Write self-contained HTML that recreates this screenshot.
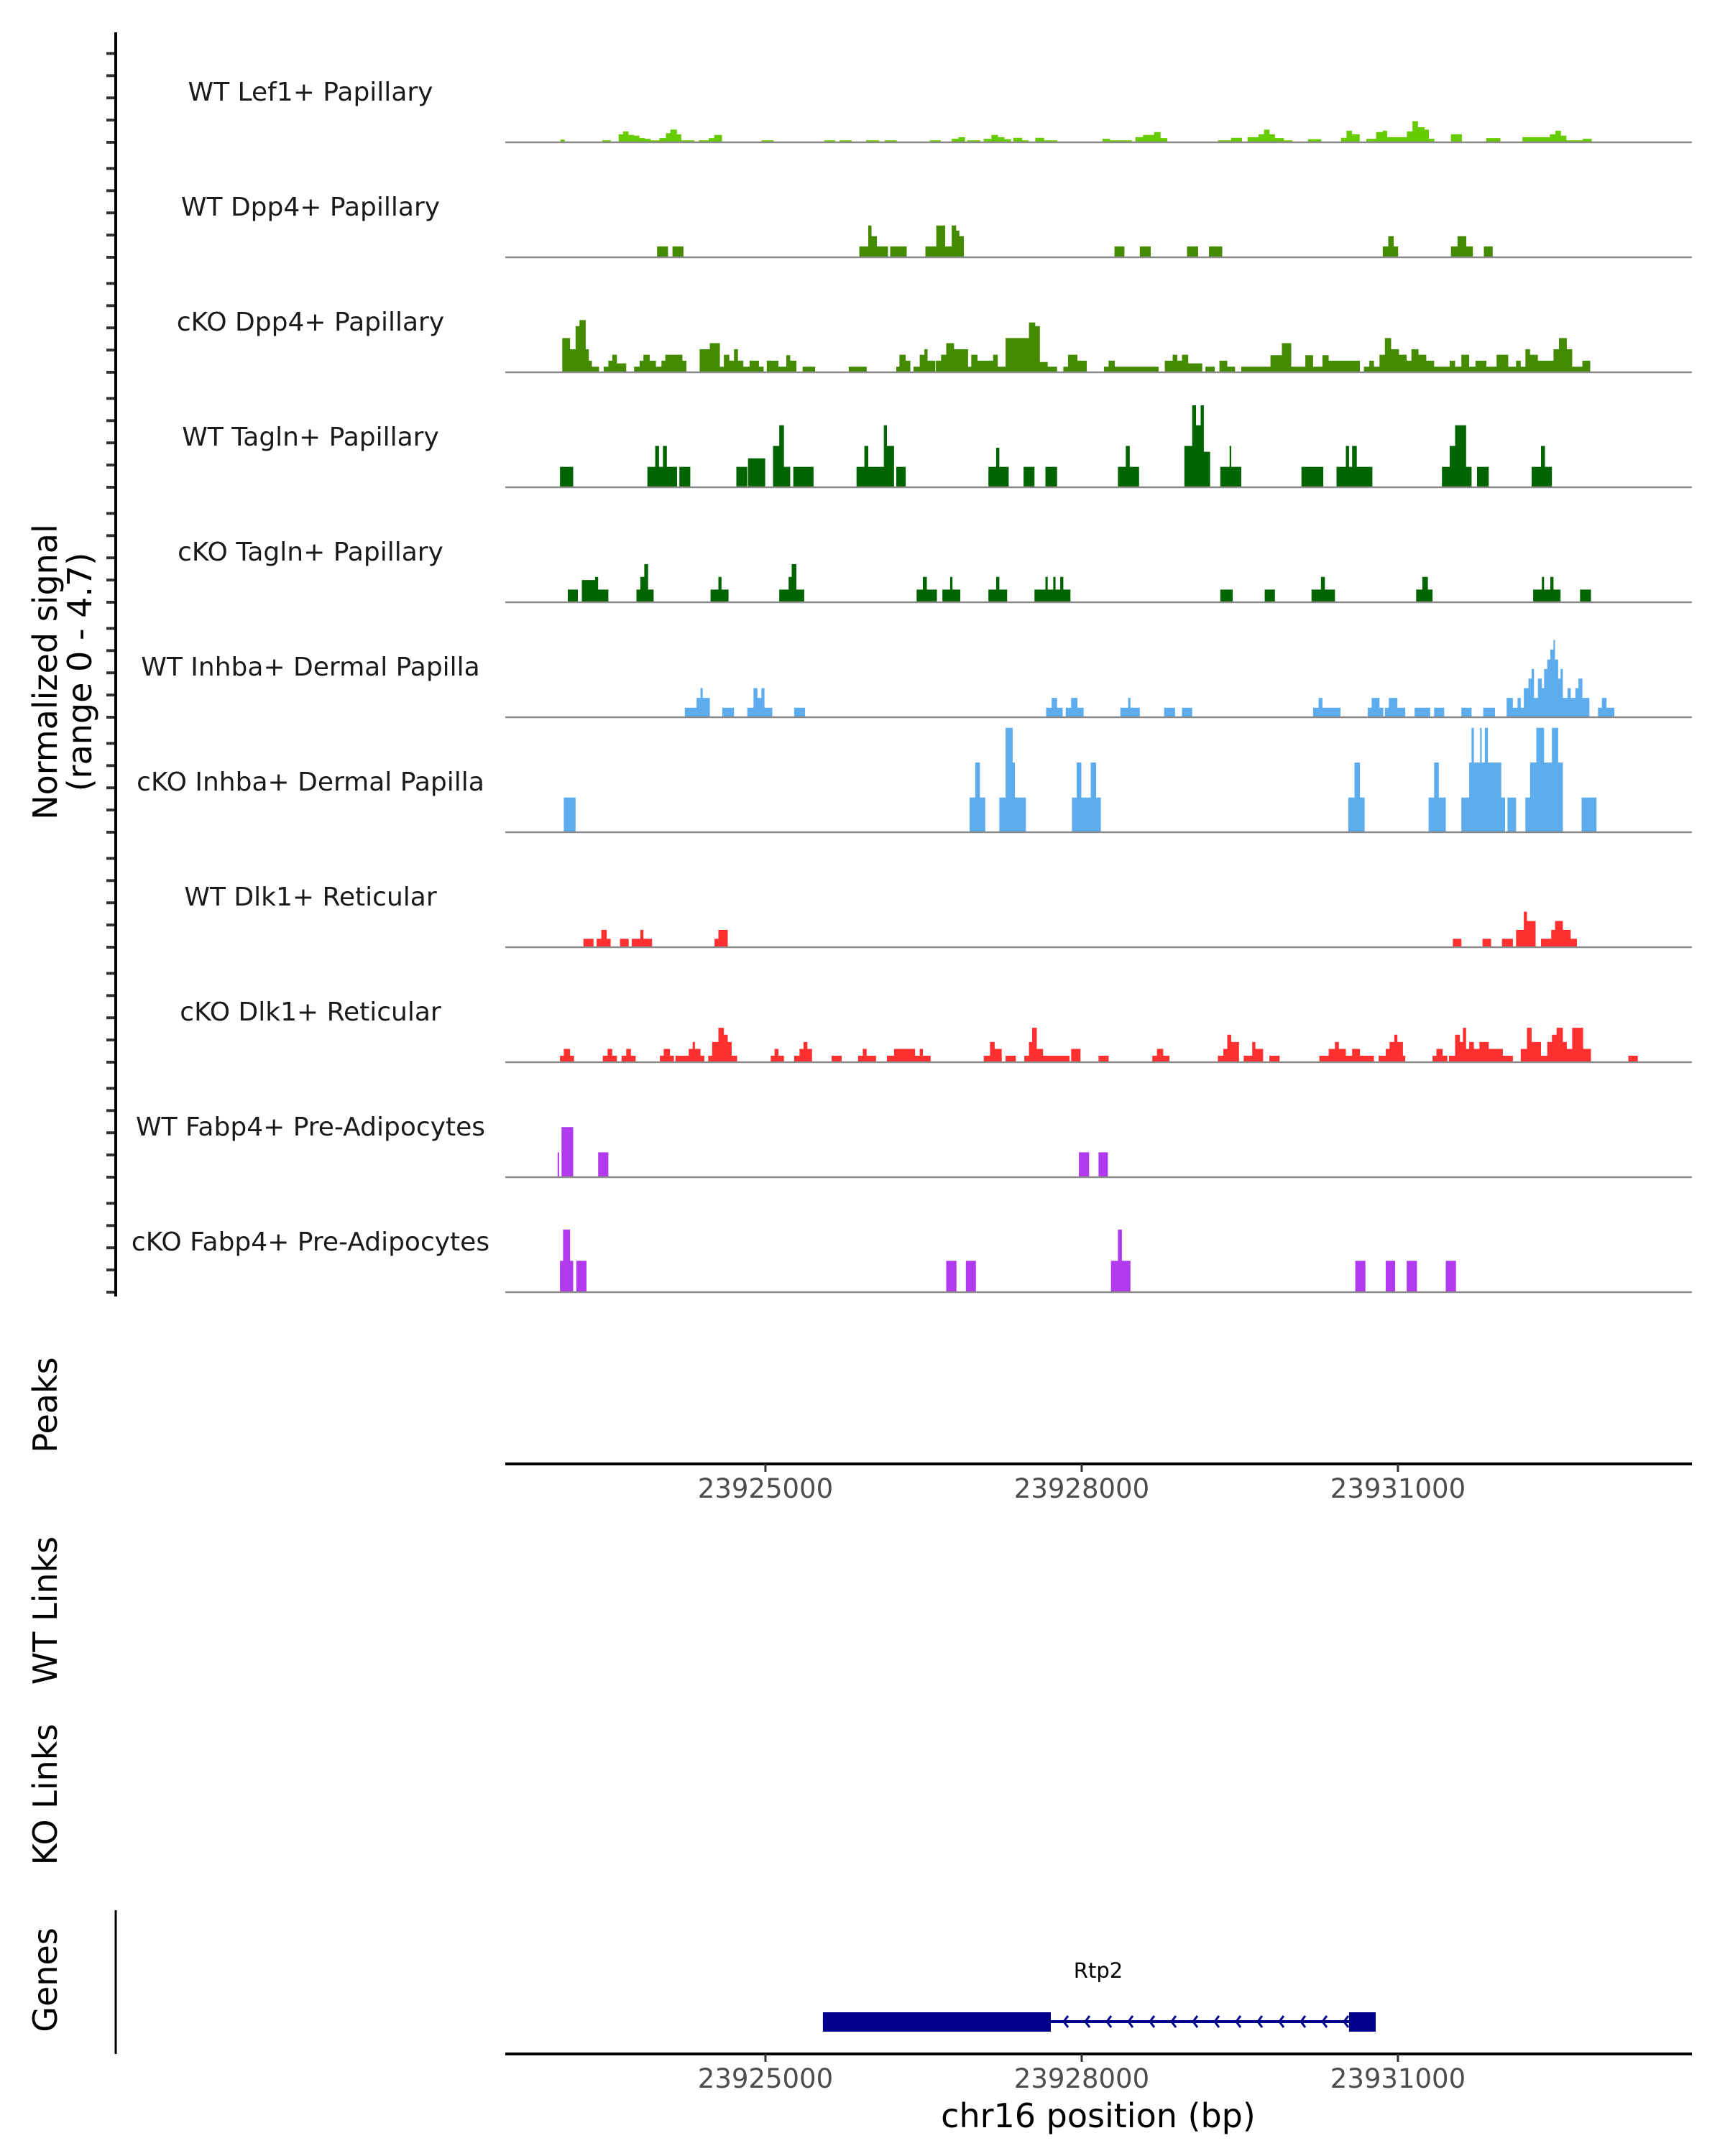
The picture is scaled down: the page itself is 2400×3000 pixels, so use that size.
<!DOCTYPE html>
<html><head><meta charset="utf-8"><title>Coverage plot chr16 Rtp2</title>
<style>html,body{margin:0;padding:0;background:#fff}svg{display:block;font-family:"DejaVu Sans","Liberation Sans",sans-serif}</style>
</head><body>
<svg id="chart" xmlns="http://www.w3.org/2000/svg" width="2400" height="3000" viewBox="0 0 2400 3000">
<rect x="0" y="0" width="2400" height="3000" fill="#fff"/>
<g id="tracks"></g>
<g id="axes"></g>
<g id="genes"></g>
</svg>
<script>
// ---- data (positions: bp offset from regionStart; values: normalized signal) ----
const regionStart = 23922532;
const regionEnd = 23933789;
const trackNames = ["WT Lef1+ Papillary","WT Dpp4+ Papillary","cKO Dpp4+ Papillary","WT Tagln+ Papillary","cKO Tagln+ Papillary","WT Inhba+ Dermal Papilla","cKO Inhba+ Dermal Papilla","WT Dlk1+ Reticular","cKO Dlk1+ Reticular","WT Fabp4+ Pre-Adipocytes","cKO Fabp4+ Pre-Adipocytes"];
const trackColors = ["#66cc00","#458b00","#458b00","#006400","#006400","#5cacee","#5cacee","#ff3030","#ff3030","#b23aee","#b23aee"];
const signalMax = 4.7;
const xTicks = [23925000, 23928000, 23931000];

const lef1WT = [[522,564,0.12],[919,1002,0.09],[1075,1117,0.36],[1117,1169,0.49],[1169,1221,0.33],[1221,1273,0.3],[1273,1325,0.19],[1325,1378,0.16],[1378,1461,0.09],[1461,1524,0.19],[1524,1566,0.41],[1566,1628,0.57],[1628,1670,0.36],[1670,1795,0.09],[1837,1930,0.09],[1930,1983,0.19],[1983,2056,0.33],[2431,2546,0.09],[3026,3130,0.09],[3172,3286,0.09],[3422,3547,0.09],[3599,3714,0.09],[4027,4131,0.09],[4235,4298,0.16],[4298,4361,0.23],[4381,4507,0.09],[4538,4611,0.16],[4611,4673,0.33],[4673,4736,0.23],[4736,4799,0.14],[4819,4903,0.2],[4903,4965,0.09],[5028,5112,0.2],[5112,5237,0.09],[5665,5737,0.16],[5737,5842,0.09],[5842,5946,0.09],[5977,6050,0.23],[6050,6155,0.33],[6155,6217,0.46],[6217,6280,0.19],[6760,6885,0.09],[6885,6989,0.2],[7041,7146,0.23],[7146,7198,0.36],[7198,7250,0.57],[7250,7302,0.36],[7302,7386,0.19],[7386,7469,0.09],[7615,7740,0.14],[7928,7980,0.2],[7980,8032,0.52],[8032,8105,0.36],[8168,8261,0.16],[8261,8324,0.46],[8324,8366,0.52],[8366,8428,0.23],[8428,8553,0.23],[8553,8606,0.49],[8606,8658,0.95],[8658,8720,0.68],[8720,8762,0.57],[8762,8814,0.16],[8971,9075,0.36],[9305,9440,0.19],[9649,9753,0.23],[9753,9909,0.23],[9909,9961,0.36],[9961,10014,0.52],[10014,10066,0.3],[10066,10222,0.09],[10222,10306,0.16]];
const dpp4WT = [[1440,1544,0.49],[1586,1690,0.49],[3359,3443,0.49],[3443,3474,1.43],[3474,3526,0.95],[3526,3630,0.49],[3651,3808,0.49],[3985,4089,0.49],[4089,4173,1.43],[4173,4235,0.49],[4235,4277,1.43],[4277,4308,1.2],[4308,4350,0.95],[5779,5873,0.49],[6019,6123,0.49],[6467,6572,0.49],[6676,6801,0.49],[8324,8376,0.49],[8376,8428,0.95],[8428,8470,0.49],[8971,9033,0.49],[9033,9117,0.95],[9117,9179,0.49],[9283,9367,0.49]];
// the following tracks were measured on a crop scale; cropScale/cropShift convert them to regionStart offsets
const cropScale = 0.9872;
const cropShift = 42;
const dpp4KO = [[505,580,1.54],[580,633,1.04],[633,670,2.08],[670,730,2.35],[730,760,1.04],[760,790,0.52],[790,858,0.25],[903,948,0.25],[948,985,0.52],[985,1030,0.79],[1030,1120,0.4],[1195,1248,0.25],[1248,1285,0.52],[1285,1345,0.79],[1345,1405,0.52],[1405,1458,0.25],[1458,1495,0.52],[1495,1660,0.79],[1660,1698,0.52],[1825,1870,1.04],[1870,1923,1.04],[1923,2020,1.31],[2020,2058,0.25],[2058,2110,0.79],[2110,2155,0.52],[2155,2193,1.04],[2193,2245,0.52],[2245,2305,0.25],[2305,2395,0.52],[2395,2440,0.25],[2470,2523,0.52],[2523,2583,0.52],[2583,2658,0.25],[2658,2695,0.77],[2695,2755,0.52],[2815,2935,0.25],[3258,3340,0.25],[3340,3430,0.25],[3715,3745,0.25],[3745,3805,0.79],[3805,3850,0.52],[3880,3940,0.25],[3940,3985,0.79],[3985,4015,1.04],[4015,4090,0.52],[4095,4145,0.52],[4145,4195,0.79],[4195,4270,1.31],[4270,4315,1.04],[4315,4405,1.04],[4405,4435,0.25],[4435,4495,0.79],[4495,4645,0.52],[4645,4690,0.79],[4690,4765,0.25],[4765,4870,1.54],[4870,4990,1.54],[4990,5050,2.24],[5050,5095,2.08],[5095,5170,0.46],[5170,5260,0.25],[5320,5365,0.25],[5365,5455,0.79],[5455,5545,0.52],[5710,5755,0.25],[5755,5815,0.52],[5815,5880,0.25],[5880,6235,0.25],[6295,6370,0.52],[6370,6415,0.79],[6415,6460,0.52],[6460,6520,0.79],[6520,6655,0.4],[6685,6775,0.25],[6820,6895,0.52],[6895,6970,0.25],[7030,7310,0.25],[7310,7420,0.77],[7420,7510,1.31],[7510,7645,0.25],[7645,7720,0.77],[7720,7810,0.25],[7810,7870,0.77],[7870,7983,0.52],[7983,8170,0.52],[8208,8260,0.25],[8260,8305,0.52],[8305,8358,0.25],[8358,8410,0.79],[8410,8470,1.54],[8470,8545,1.04],[8545,8620,0.79],[8620,8665,0.52],[8665,8733,1.04],[8733,8808,0.79],[8808,8883,0.52],[8883,9033,0.25],[9033,9085,0.52],[9085,9145,0.25],[9145,9220,0.79],[9220,9280,0.25],[9280,9385,0.52],[9385,9483,0.25],[9483,9595,0.79],[9595,9670,0.25],[9670,9715,0.52],[9715,9760,0.25],[9760,9805,1.04],[9805,9880,0.79],[9880,9970,0.52],[9970,10030,0.52],[10030,10083,1.04],[10083,10158,1.54],[10158,10210,1.04],[10210,10308,0.25],[10308,10383,0.52]];
const taglnWT = [[483,610,0.92],[1323,1398,0.92],[1398,1435,1.86],[1435,1473,0.92],[1473,1510,1.86],[1510,1608,0.92],[1630,1735,0.92],[2178,2283,0.92],[2290,2455,1.3],[2530,2590,1.86],[2590,2635,2.79],[2635,2695,0.92],[2725,2920,0.92],[3333,3408,0.92],[3408,3445,1.86],[3445,3595,0.92],[3595,3625,2.79],[3625,3693,1.86],[3715,3805,0.92],[4600,4675,0.92],[4675,4705,1.78],[4705,4795,0.92],[4938,5043,0.92],[5148,5260,0.92],[5845,5920,0.92],[5920,5958,1.86],[5958,6048,0.92],[6483,6558,1.86],[6558,6595,3.69],[6595,6640,2.79],[6640,6670,3.69],[6670,6730,1.6],[6828,6918,0.92],[6918,6933,1.86],[6933,7030,0.92],[7608,7818,0.92],[7945,8035,0.92],[8035,8065,1.86],[8065,8095,0.92],[8095,8140,1.86],[8140,8290,0.92],[8958,9033,0.92],[9033,9085,1.86],[9085,9190,2.79],[9190,9243,0.92],[9295,9408,0.92],[9820,9910,0.92],[9910,9948,1.86],[9948,10015,0.92]];
const taglnKO = [[558,655,0.57],[693,820,1.0],[820,850,1.14],[850,948,0.57],[1218,1255,0.57],[1255,1293,1.14],[1293,1330,1.72],[1330,1383,0.57],[1930,2005,0.57],[2005,2035,1.14],[2035,2103,0.57],[2590,2680,0.57],[2680,2710,1.14],[2710,2755,1.72],[2755,2830,0.57],[3910,3970,0.57],[3970,4008,1.14],[4008,4105,0.57],[4158,4233,0.57],[4233,4255,1.14],[4255,4330,0.57],[4600,4675,0.57],[4675,4705,1.14],[4705,4780,0.57],[5043,5148,0.57],[5148,5170,1.14],[5170,5223,0.57],[5223,5245,1.14],[5245,5290,0.57],[5290,5320,1.14],[5320,5388,0.57],[6828,6948,0.57],[7255,7353,0.57],[7705,7795,0.57],[7795,7833,1.14],[7833,7930,0.57],[8710,8770,0.57],[8770,8823,1.14],[8823,8868,0.57],[9835,9918,0.57],[9918,9940,1.14],[9940,10000,0.57],[10000,10030,1.14],[10030,10098,0.57],[10285,10390,0.57]];
const inhbaWT = [[1683,1795,0.43],[1795,1833,0.87],[1833,1855,1.31],[1855,1923,0.87],[2043,2155,0.43],[2283,2343,0.43],[2343,2380,1.31],[2380,2418,0.87],[2418,2448,1.31],[2448,2523,0.43],[2733,2838,0.43],[5155,5208,0.43],[5208,5260,0.87],[5260,5313,0.43],[5343,5395,0.43],[5395,5455,0.87],[5455,5515,0.43],[5868,5943,0.43],[5943,5965,0.87],[5965,6055,0.43],[6288,6393,0.43],[6460,6558,0.43],[7720,7773,0.43],[7773,7810,0.87],[7810,7983,0.43],[8245,8283,0.43],[8283,8358,0.87],[8358,8395,0.43],[8410,8448,0.43],[8448,8530,0.87],[8530,8605,0.43],[8695,8845,0.43],[8883,8980,0.43],[9145,9243,0.43],[9355,9468,0.43],[9580,9640,0.87],[9640,9685,0.43],[9685,9715,0.87],[9715,9745,0.43],[9745,9790,1.31],[9790,9820,1.74],[9820,9843,2.17],[9843,9880,0.87],[9880,9918,1.74],[9918,9940,1.31],[9940,9970,2.17],[9970,10000,2.6],[10000,10030,3.05],[10030,10045,3.48],[10045,10075,2.6],[10075,10098,1.74],[10098,10120,2.17],[10120,10165,0.87],[10165,10195,1.31],[10195,10240,0.87],[10240,10270,1.31],[10270,10308,1.74],[10308,10375,0.87],[10458,10495,0.43],[10495,10540,0.87],[10540,10615,0.43]];
const inhbaKO = [[520,633,1.56],[4420,4473,1.56],[4473,4518,3.14],[4518,4570,1.56],[4705,4765,1.56],[4765,4833,4.7],[4833,4855,3.14],[4855,4960,1.56],[5403,5448,1.56],[5448,5493,3.14],[5493,5583,1.56],[5583,5635,3.14],[5635,5680,1.56],[8058,8118,1.56],[8118,8170,3.14],[8170,8215,1.56],[8830,8883,1.56],[8883,8928,3.14],[8928,8995,1.56],[9145,9220,1.56],[9220,9243,3.14],[9243,9265,4.7],[9265,9325,3.14],[9325,9340,4.7],[9340,9370,3.14],[9370,9400,4.7],[9400,9528,3.14],[9528,9565,1.56],[9588,9670,1.56],[9760,9805,1.56],[9805,9865,3.14],[9865,9940,4.7],[9940,10015,3.14],[10015,10075,4.7],[10075,10120,3.14],[10300,10443,1.56]];
const dlk1WT = [[708,805,0.38],[835,880,0.38],[880,933,0.78],[933,970,0.38],[1060,1143,0.38],[1173,1255,0.38],[1255,1285,0.78],[1285,1368,0.38],[1968,2005,0.38],[2005,2095,0.78],[9063,9145,0.38],[9348,9430,0.38],[9535,9640,0.38],[9670,9745,0.78],[9745,9775,1.6],[9775,9858,1.18],[9910,10008,0.38],[10008,10045,0.78],[10045,10120,1.18],[10120,10195,0.78],[10195,10255,0.38]];
const dlk1KO = [[483,520,0.29],[520,580,0.6],[580,618,0.29],[895,940,0.29],[940,985,0.6],[985,1030,0.29],[1075,1120,0.29],[1120,1165,0.6],[1165,1210,0.29],[1443,1480,0.29],[1480,1540,0.6],[1540,1578,0.29],[1593,1720,0.29],[1720,1758,0.6],[1758,1780,0.91],[1780,1833,0.6],[1833,1870,0.29],[1908,1945,0.29],[1945,2005,0.91],[2005,2058,1.55],[2058,2095,1.24],[2095,2133,0.91],[2133,2185,0.29],[2508,2545,0.29],[2545,2583,0.6],[2583,2635,0.29],[2733,2785,0.29],[2785,2823,0.6],[2823,2860,0.91],[2860,2905,0.6],[3093,3190,0.29],[3348,3393,0.29],[3393,3430,0.6],[3430,3520,0.29],[3625,3693,0.29],[3693,3730,0.6],[3730,3895,0.6],[3895,3940,0.29],[3940,3970,0.6],[3970,4045,0.29],[4555,4615,0.29],[4615,4660,0.91],[4660,4728,0.6],[4765,4863,0.29],[4945,4990,0.29],[4990,5020,0.91],[5020,5065,1.55],[5065,5125,0.6],[5125,5380,0.29],[5395,5485,0.6],[5658,5755,0.29],[6175,6220,0.29],[6220,6280,0.6],[6280,6340,0.29],[6805,6858,0.29],[6858,6895,0.6],[6895,6933,1.24],[6933,7008,0.91],[7053,7135,0.29],[7135,7165,0.91],[7165,7240,0.6],[7300,7398,0.29],[7780,7870,0.29],[7870,7930,0.6],[7930,7968,0.91],[7968,8035,0.6],[8035,8058,0.29],[8058,8095,0.29],[8095,8170,0.6],[8170,8305,0.29],[8350,8418,0.29],[8418,8455,0.6],[8455,8500,0.91],[8500,8530,1.24],[8530,8583,0.91],[8583,8605,0.29],[8868,8905,0.29],[8905,8965,0.6],[8965,9010,0.29],[9025,9085,0.29],[9085,9130,1.24],[9130,9160,0.91],[9160,9190,1.55],[9190,9220,0.6],[9220,9265,0.91],[9265,9318,0.6],[9318,9408,0.91],[9408,9543,0.6],[9543,9640,0.29],[9715,9775,0.6],[9775,9820,1.55],[9820,9910,0.91],[9910,9970,0.29],[9970,10015,0.91],[10015,10060,1.24],[10060,10120,1.55],[10120,10158,0.91],[10158,10210,0.6],[10210,10315,1.55],[10315,10390,0.6],[10750,10840,0.29]];
const fabp4WT = [[460,475,1.12],[498,610,2.26],[850,948,1.12],[5470,5568,1.12],[5658,5748,1.12]];
const fabp4KO = [[483,513,1.41],[513,580,2.82],[580,610,1.41],[640,738,1.41],[4195,4293,1.41],[4383,4480,1.41],[5778,5845,1.41],[5845,5883,2.82],[5883,5965,1.41],[8125,8223,1.41],[8418,8508,1.41],[8620,8718,1.41],[8995,9093,1.41]];
function fromCrop(arr){ return arr.map(b => [b[0] * cropScale + cropShift, b[1] * cropScale + cropShift, b[2]]); }
const trackData = [lef1WT, dpp4WT, fromCrop(dpp4KO), fromCrop(taglnWT), fromCrop(taglnKO), fromCrop(inhbaWT), fromCrop(inhbaKO), fromCrop(dlk1WT), fromCrop(dlk1KO), fromCrop(fabp4WT), fromCrop(fabp4KO)];

const geneName = "Rtp2";
const geneStart = 23925545;
const geneEnd = 23930789;
const geneExons = [[23925545,23927707],[23930536,23930789]];

// ---- layout ----
const NS = "http://www.w3.org/2000/svg";
const plotX0 = 703, plotX1 = 2354;
const firstBase = 198, trackStep = 160, unitPx = 30.9;
function xScale(bp){ return plotX0 + (bp - regionStart) * (plotX1 - plotX0) / (regionEnd - regionStart); }
function yScale(i, v){ return firstBase + i * trackStep - v * unitPx; }
function mk(tag, attrs, parent){ const e = document.createElementNS(NS, tag); for (const k in attrs) e.setAttribute(k, attrs[k]); parent.appendChild(e); return e; }

const gT = document.getElementById('tracks');
const gA = document.getElementById('axes');
const gG = document.getElementById('genes');

trackData.forEach((blocks, i) => {
  const base = yScale(i, 0);
  let d = "";
  blocks.forEach(b => {
    const xa = xScale(regionStart + b[0]), xb = xScale(regionStart + b[1]), yt = yScale(i, b[2]);
    d += `M${xa.toFixed(1)},${base}L${xa.toFixed(1)},${yt.toFixed(1)}L${xb.toFixed(1)},${yt.toFixed(1)}L${xb.toFixed(1)},${base}Z`;
  });
  const p = mk('path', {d: d, fill: trackColors[i]}, gT);
  
  
  const bl = mk('line', {x1: plotX0, x2: plotX1, y1: base, y2: base, stroke: '#8a8a8a', 'stroke-width': 2.5}, gT);
  
  
  const t = mk('text', {x: 432, y: base - 58, 'font-size': 36, 'text-anchor': 'middle', fill: '#1a1a1a'}, gT);
  t.textContent = trackNames[i];
  
  
  for (let k = 0; k <= 4; k++) {
    const ty = yScale(i, k);
    const tk = mk('line', {x1: 148, x2: 161, y1: ty, y2: ty, stroke: '#333', 'stroke-width': 4}, gA);
    
    
  }
});

const yAxis = mk('line', {x1: 161, x2: 161, y1: 45, y2: yScale(trackData.length - 1, 0) + 6, stroke: '#000', 'stroke-width': 4}, gA);



function rotText(x, y, lines, size, name){
  const t = mk('text', {transform: `translate(${x},${y}) rotate(-90)`, 'font-size': size, 'text-anchor': 'middle', fill: '#000'}, gA);
  t.textContent = lines;
  
  
}
rotText(79, 935, "Normalized signal", 46, 'y-axis-title');
rotText(127, 935, "(range 0 - " + signalMax + ")", 46, 'y-axis-range');
rotText(79, 1955, "Peaks", 46, 'peaks-title');
rotText(79, 2241, "WT Links", 46, 'wt-links-title');
rotText(79, 2497, "KO Links", 46, 'ko-links-title');
rotText(79, 2755, "Genes", 46, 'genes-title');

function xAxis(y, name){
  const l = mk('line', {x1: plotX0, x2: plotX1, y1: y, y2: y, stroke: '#000', 'stroke-width': 4}, gA);
  
  
  xTicks.forEach(v => {
    const x = xScale(v);
    const tk = mk('line', {x1: x, x2: x, y1: y, y2: y + 11, stroke: '#333', 'stroke-width': 3}, gA);
    
    
    const tl = mk('text', {x: x, y: y + 47, 'font-size': 37, 'text-anchor': 'middle', fill: '#4d4d4d'}, gA);
    tl.textContent = v;
    
    
  });
}
xAxis(2037, 'peaks-x-axis');
xAxis(2858, 'genes-x-axis');
const xt = mk('text', {x: 1528, y: 2960, 'font-size': 46, 'text-anchor': 'middle', fill: '#000'}, gA);
xt.textContent = "chr16 position (bp)";



const gl = mk('line', {x1: 161, x2: 161, y1: 2658, y2: 2858, stroke: '#000', 'stroke-width': 3}, gG);



// gene model
const gy = 2813;
const intron = mk('line', {x1: xScale(geneStart), x2: xScale(geneEnd), y1: gy, y2: gy, stroke: '#00008b', 'stroke-width': 4}, gG);


const ax0 = xScale(geneExons[0][1]), ax1 = xScale(geneExons[1][0]);
for (let x = ax0 + 18; x < ax1 - 4; x += 30) {
  const c = mk('polyline', {points: `${x + 6},${gy - 8} ${x},${gy} ${x + 6},${gy + 8}`, fill: 'none', stroke: '#00008b', 'stroke-width': 3}, gG);
  
  
}
geneExons.forEach(ex => {
  const r = mk('rect', {x: xScale(ex[0]), y: 2800, width: xScale(ex[1]) - xScale(ex[0]), height: 27, fill: '#00008b'}, gG);
  
  
});
const gn = mk('text', {x: 1528, y: 2752, 'font-size': 29, 'text-anchor': 'middle', fill: '#000'}, gG);
gn.textContent = geneName;


</script>
</body></html>
